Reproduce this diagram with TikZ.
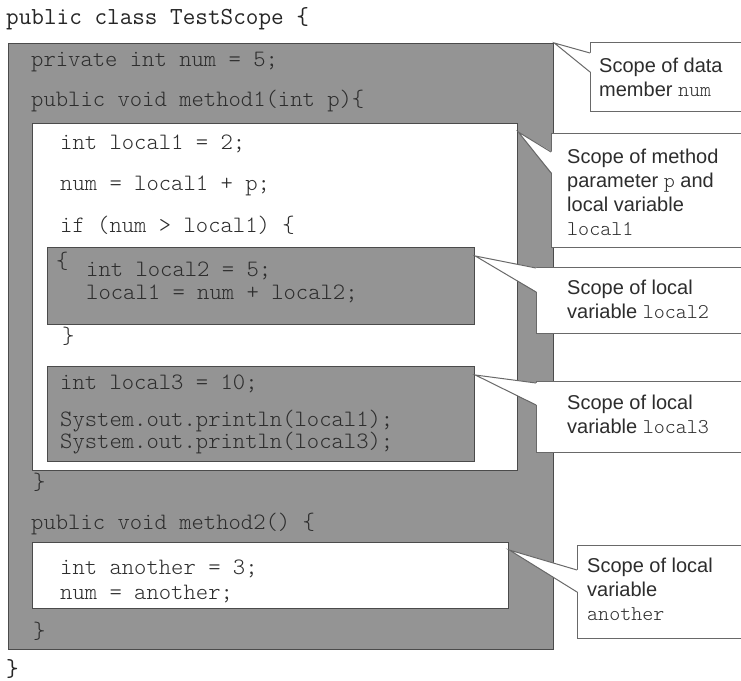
\documentclass[tikz,border=0pt]{standalone}
\usepackage{fontspec}
\setmainfont{Liberation Sans}
\setmonofont{Latin Modern Mono Light}
\newfontfamily\headfont{Latin Modern Mono}

\definecolor{scopegray}{RGB}{148,148,148}
\definecolor{edgegray}{RGB}{75,75,75}
\definecolor{inkgray}{RGB}{45,45,45}
\definecolor{notegray}{RGB}{105,105,105}

\tikzset{
  box/.style={anchor=north west, inner sep=0pt, line width=1.3pt, draw=edgegray},
  graybox/.style={box, fill=scopegray},
  whitebox/.style={box, fill=white},
  code/.style={anchor=base west, inner sep=0pt, text=inkgray, font=\ttfamily\fontsize{23.5}{24}\selectfont},
  outer/.style={code, text=black!85, font=\headfont\fontsize{24.5}{24}\selectfont},
  note/.style={anchor=north west, inner sep=0pt, draw=notegray, fill=white, line width=1pt},
  notetext/.style={anchor=base west, inner sep=0pt, text=inkgray, align=left, font=\fontsize{20}{24}\selectfont},
  pointer/.style={draw=notegray, line width=1pt}
}
\newcommand{\vname}[1]{{\ttfamily\fontsize{21}{24}\selectfont #1}}

\begin{document}
\begin{tikzpicture}[x=1pt,y=-1pt]
\useasboundingbox (0,0) rectangle (741,680);

% class TestScope
\node[outer] (classhead) at (6,24) {public class TestScope \{};
\node[graybox, minimum width=545pt, minimum height=606pt] (classbox) at (8,43) {};
\node[code] (numline) at (31,66) {private int num = 5;};
\node[code] (m1head) at (31,106) {public void method1(int p)\{};

% method1
\node[whitebox, minimum width=485pt, minimum height=347pt] (m1box) at (32,123) {};
\node[code] (local1line) at (60,149) {int local1 = 2;};
\node[code] (sumline) at (60,190) {num = local1 + p;};
\node[code] (ifline) at (60,232) {if (num > local1) \{};

\node[graybox, minimum width=427pt, minimum height=77pt] (l2box) at (47,247) {};
\node[code] (ifopen) at (56,268) {\{};
\node[code] (local2line) at (86,276) {int local2 = 5;};
\node[code] (addline) at (86,299) {local1 = num + local2;};
\node[code] (ifclose) at (62,343) {\}};

\node[graybox, minimum width=427pt, minimum height=95pt] (l3box) at (47,366) {};
\node[code] (local3line) at (60,389) {int local3 = 10;};
\node[code] (print1) at (60,426) {System.out.println(local1);};
\node[code] (print3) at (60,448) {System.out.println(local3);};
\node[code] (m1close) at (33,489) {\}};

% method2
\node[code] (m2head) at (31,529) {public void method2() \{};
\node[whitebox, minimum width=476pt, minimum height=66pt] (m2box) at (32,542) {};
\node[code] (anotherline) at (60,574) {int another = 3;};
\node[code] (assignline) at (60,599) {num = another;};
\node[code] (m2close) at (33,638) {\}};
\node[outer] (classclose) at (6,676) {\}};

% callouts (base anchor sits on the last line)
\node[note, minimum width=160pt, minimum height=69pt] (numnote) at (590,42) {};
\node[notetext] (numtext) at (599,96) {Scope of data\\member \vname{num}};
\fill[white] (classbox.north east) -- ([xshift=1pt,yshift=-11pt]numnote.north west) -- ([xshift=1pt,yshift=-30pt]numnote.north west) -- cycle;
\draw[pointer] ([yshift=-11pt]numnote.north west) -- (classbox.north east) -- ([yshift=-30pt]numnote.north west);

\node[note, minimum width=199pt, minimum height=114pt] (m1note) at (551,133) {};
\node[notetext] (m1text) at (567,235) {Scope of method\\parameter \vname{p} and\\local variable\\\vname{local1}};
\fill[white] ([yshift=-9pt]m1box.north east) -- ([xshift=1pt,yshift=-19pt]m1note.north west) -- ([xshift=1pt,yshift=-40pt]m1note.north west) -- cycle;
\draw[pointer] ([yshift=-19pt]m1note.north west) -- ([yshift=-9pt]m1box.north east) -- ([yshift=-40pt]m1note.north west);

\node[note, minimum width=214pt, minimum height=66pt] (l2note) at (536,267) {};
\node[notetext] (l2text) at (567,318) {Scope of local\\variable \vname{local2}};
\fill[white] ([yshift=-9pt]l2box.north east) -- ([xshift=1pt,yshift=-1pt]l2note.north west) -- ([xshift=1pt,yshift=-25pt]l2note.north west) -- cycle;
\draw[pointer] ([yshift=-1pt]l2note.north west) -- ([yshift=-9pt]l2box.north east) -- ([yshift=-25pt]l2note.north west);

\node[note, minimum width=214pt, minimum height=71pt] (l3note) at (536,381) {};
\node[notetext] (l3text) at (567,433) {Scope of local\\variable \vname{local3}};
\fill[white] ([yshift=-9pt]l3box.north east) -- ([xshift=1pt,yshift=-2pt]l3note.north west) -- ([xshift=1pt,yshift=-24pt]l3note.north west) -- cycle;
\draw[pointer] ([yshift=-2pt]l3note.north west) -- ([yshift=-9pt]l3box.north east) -- ([yshift=-24pt]l3note.north west);

\node[note, minimum width=173pt, minimum height=93pt] (m2note) at (577,545) {};
\node[notetext] (m2text) at (587,620) {Scope of local\\variable\\\vname{another}};
\fill[white] ([yshift=-8pt]m2box.north east) -- ([xshift=1pt,yshift=-25pt]m2note.north west) -- ([xshift=1pt,yshift=-47pt]m2note.north west) -- cycle;
\draw[pointer] ([yshift=-25pt]m2note.north west) -- ([yshift=-8pt]m2box.north east) -- ([yshift=-47pt]m2note.north west);

\end{tikzpicture}
\end{document}
